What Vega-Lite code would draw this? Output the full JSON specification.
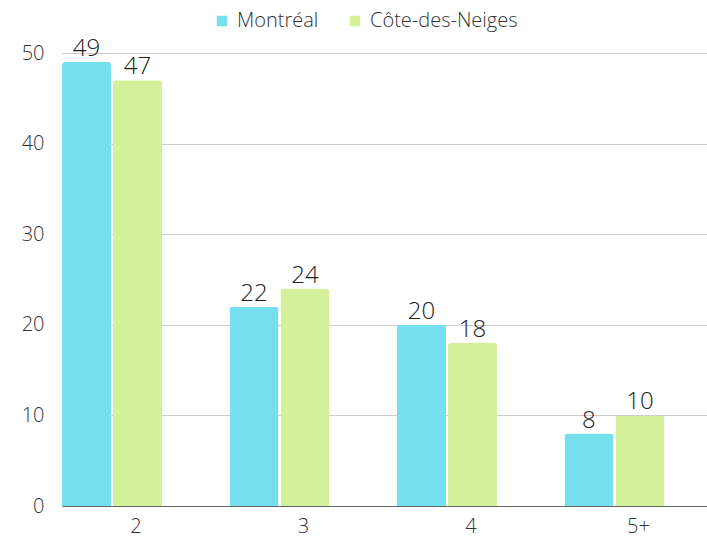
{
  "$schema": "https://vega.github.io/schema/vega-lite/v6.json",
  "width": 645,
  "height": 453,
  "autosize": {"type": "none"},
  "padding": {"left": 62, "top": 53, "right": 0, "bottom": 32},
  "config": {
    "font": "Open Sans",
    "view": {"stroke": null}
  },
  "data": {
    "values": [
      {"taille": "2", "zone": "Montréal", "valeur": 49},
      {"taille": "2", "zone": "Côte-des-Neiges", "valeur": 47},
      {"taille": "3", "zone": "Montréal", "valeur": 22},
      {"taille": "3", "zone": "Côte-des-Neiges", "valeur": 24},
      {"taille": "4", "zone": "Montréal", "valeur": 20},
      {"taille": "4", "zone": "Côte-des-Neiges", "valeur": 18},
      {"taille": "5+", "zone": "Montréal", "valeur": 8},
      {"taille": "5+", "zone": "Côte-des-Neiges", "valeur": 10}
    ]
  },
  "encoding": {
    "x": {
      "field": "taille",
      "type": "nominal",
      "sort": ["2", "3", "4", "5+"],
      "scale": {"paddingInner": 0.403, "paddingOuter": 0.127, "align": 0},
      "axis": {
        "title": null,
        "labelAngle": 0,
        "labelFontSize": 20,
        "labelFontWeight": 300,
        "labelColor": "#333333",
        "labelOffset": 24,
        "labelPadding": 10,
        "ticks": false,
        "domainColor": "#666666",
        "domainWidth": 1
      }
    },
    "xOffset": {
      "field": "zone",
      "type": "nominal",
      "sort": ["Montréal", "Côte-des-Neiges"],
      "scale": {"paddingInner": 0.039, "paddingOuter": 0}
    },
    "y": {
      "field": "valeur",
      "type": "quantitative",
      "scale": {"domain": [0, 50], "nice": false},
      "axis": {
        "title": null,
        "values": [0, 10, 20, 30, 40, 50],
        "labelFontSize": 20,
        "labelFontWeight": 300,
        "labelColor": "#333333",
        "labelPadding": 18,
        "ticks": false,
        "domain": false,
        "gridColor": "#cccccc",
        "gridWidth": 1
      }
    }
  },
  "layer": [
    {
      "mark": {"type": "bar", "cornerRadiusTopLeft": 3, "cornerRadiusTopRight": 3},
      "encoding": {
        "color": {
          "field": "zone",
          "type": "nominal",
          "sort": ["Montréal", "Côte-des-Neiges"],
          "scale": {"domain": ["Montréal", "Côte-des-Neiges"], "range": ["#76dfee", "#d4f09b"]},
          "legend": {
            "title": null,
            "orient": "none",
            "legendX": 150,
            "legendY": -42,
            "direction": "horizontal",
            "symbolType": "square",
            "symbolSize": 110,
            "symbolStrokeWidth": 0,
            "labelFontSize": 20,
            "labelFontWeight": 300,
            "labelColor": "#333333",
            "labelOffset": 5,
            "columnPadding": 26
          }
        }
      }
    },
    {
      "mark": {"type": "text", "baseline": "alphabetic", "dy": -6, "fontSize": 24, "fontWeight": 300, "color": "#222222"},
      "encoding": {"text": {"field": "valeur", "type": "quantitative"}}
    }
  ]
}
